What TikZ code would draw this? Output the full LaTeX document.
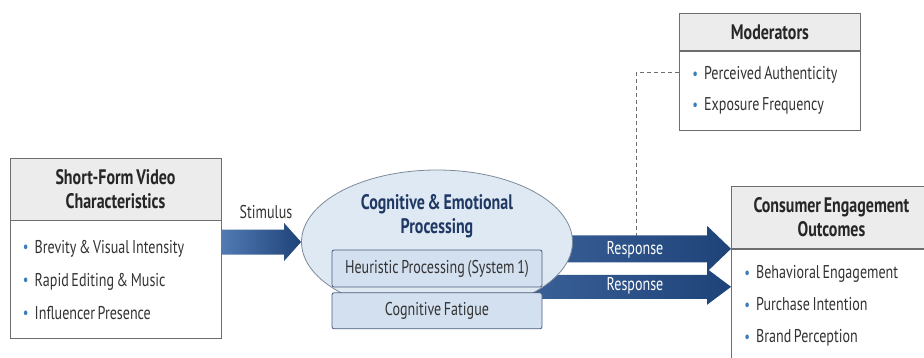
\documentclass[tikz,border=0pt]{standalone}
\usepackage{fontspec}
\setmainfont{PT Sans}[FakeStretch=0.76, WordSpace=0.7]
\usetikzlibrary{positioning, shapes.geometric, calc}
\definecolor{navy}{HTML}{1F3864}
\definecolor{edgegrey}{HTML}{6E6E6E}
\definecolor{headgrey}{HTML}{ECECEC}
\definecolor{dotblue}{HTML}{3B7DBA}
\definecolor{bodytext}{HTML}{333333}
\definecolor{ellfill}{HTML}{DFE9F4}
\definecolor{ellline}{HTML}{7C8A99}
\definecolor{subfill}{HTML}{D3E0EF}
\definecolor{subline}{HTML}{4A5D7E}
\definecolor{arrowL}{HTML}{527AB3}
\definecolor{arrowR}{HTML}{1E4379}
\newcommand{\bul}{\textcolor{dotblue}{\raisebox{0.05ex}{\scalebox{0.9}{\textbullet}}}\hspace{6pt}}
% block arrow: tail, tip, half band, half head, head length
\newcommand{\bigarrow}[5]{%
  \shade[left color=arrowL, right color=arrowR] let \p1=(#1), \p2=(#2) in
    (\x1,\y2+#3) -- (\x2-#5,\y2+#3) -- (\x2-#5,\y2+#4) -- (\x2,\y2)
    -- (\x2-#5,\y2-#4) -- (\x2-#5,\y2-#3) -- (\x1,\y2-#3) -- cycle;}
\tikzset{
  head/.style={rectangle, draw=edgegrey, fill=headgrey, line width=0.8pt, align=center,
    font=\fontsize{21}{24}\selectfont\bfseries, text=black!85},
  body/.style={rectangle, draw=edgegrey, fill=white, line width=0.8pt, align=left,
    font=\fontsize{18.5}{33}\selectfont, text=bodytext, inner xsep=13pt,
    execute at begin node={\spaceskip=0pt\xspaceskip=0pt}},
  proc/.style={ellipse, draw=ellline, fill=ellfill, line width=0.8pt},
  subbox/.style={rectangle, rounded corners=2pt, draw=subline, fill=subfill, line width=0.8pt,
    minimum width=210pt, font=\fontsize{18.5}{20}\selectfont, text=bodytext},
  arrlabel/.style={font=\fontsize{18.5}{20}\selectfont, text=bodytext},
  resplabel/.style={font=\fontsize{18.5}{20}\selectfont, text=white},
  modline/.style={dash pattern=on 4pt off 3pt, draw=edgegrey, line width=0.7pt},
}
\begin{document}
\begin{tikzpicture}[x=1pt, y=-1pt]
\useasboundingbox (0,0) rectangle (924,357);

% left: stimulus
\node[head, minimum width=211pt, minimum height=62pt] (srcHead) at (115.5,189) {Short-Form Video\\Characteristics};
\node[body, minimum width=211pt, minimum height=118pt, text width=185pt, below=0pt of srcHead] (srcBody)
  {\bul Brevity \& Visual Intensity\\ \bul Rapid Editing \& Music\\ \bul Influencer Presence};

% right: outcomes
\node[head, minimum width=200pt, minimum height=62pt, anchor=north west] (outHead) at (731,186) {Consumer Engagement\\Outcomes};
\node[body, minimum width=200pt, minimum height=114pt, text width=174pt, below=0pt of outHead,
  font=\fontsize{18.5}{32}\selectfont] (outBody)
  {\bul Behavioral Engagement\\ \bul Purchase Intention\\ \bul Brand Perception};

% top: moderators
\node[head, minimum width=181pt, minimum height=37pt, anchor=north west] (modHead) at (679,13) {Moderators};
\node[body, minimum width=181pt, minimum height=79pt, text width=155pt, below=0pt of modHead,
  font=\fontsize{18.5}{31}\selectfont] (modBody)
  {\bul Perceived Authenticity\\ \bul Exposure Frequency};

\coordinate (modEnd) at (636,262);
\draw[modline] ([yshift=18pt]modBody.west) -| (modEnd);

% response arrows (behind the ellipse)
\coordinate (procRef) at (437,242);
\bigarrow{[xshift=-90pt]procRef}{outHead.south west}{13.5pt}{23pt}{24pt}
\bigarrow{[xshift=-90pt]procRef}{[yshift=-38pt]outHead.south west}{12pt}{18pt}{24pt}
\node[resplabel] at (635,250) {Response};
\node[resplabel] at (635,286) {Response};

% centre: processing
\node[proc, minimum width=271pt, minimum height=144pt] (proc) at (procRef) {};
\node[font=\fontsize{21}{24}\selectfont\bfseries, text=navy, align=center, below=21pt of proc.north] (procTitle)
  {Cognitive \& Emotional\\Processing};
\node[subbox, minimum height=37pt] (heur) at (437,268.5) {Heuristic Processing (System 1)};
\node[subbox, minimum height=36pt, below=5pt of heur] (fatigue) {Cognitive Fatigue};

% stimulus arrow
\bigarrow{srcBody.east}{proc.west}{12.5pt}{19pt}{17pt}
\node[arrlabel] at (266,212) {Stimulus};
\end{tikzpicture}
\end{document}
